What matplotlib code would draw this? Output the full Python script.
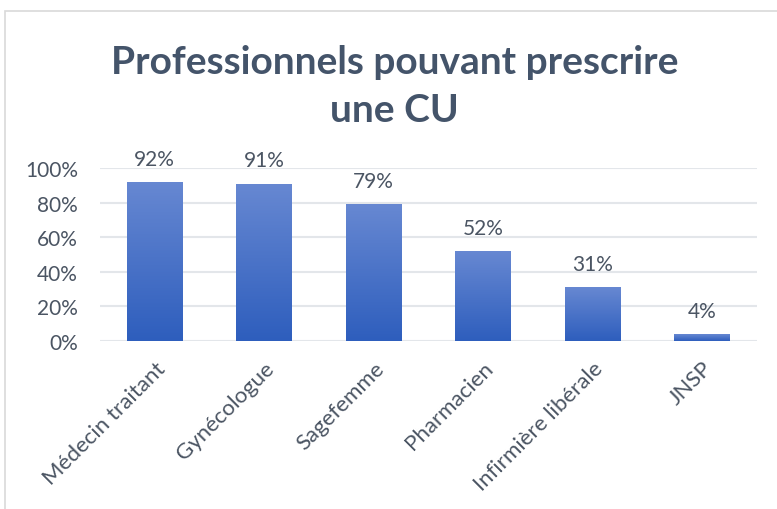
import numpy as np
import matplotlib
matplotlib.use("Agg")
import matplotlib.pyplot as plt
from matplotlib.colors import LinearSegmentedColormap
from matplotlib.patches import Rectangle

categories = ["Médecin traitant", "Gynécologue", "Sagefemme", "Pharmacien",
              "Infirmière libérale", "JNSP"]
values = [92, 91, 79, 52, 31, 4]
tick_labels = ["0%", "20%", "40%", "60%", "80%", "100%"]

plt.rcParams['font.family'] = ['Lato', 'DejaVu Sans']
text_col = "#4B5563"
title_col = "#44546A"

fig = plt.figure(figsize=(7.77, 5.10), dpi=100)
ax = fig.add_axes([0.1287, 0.3294, 0.8456, 0.3392])

# outer chart frame
fig.patches.append(Rectangle((5 / 777, -0.1), 1.2, 1 - 12 / 510 + 0.1,
                             transform=fig.transFigure, fill=False,
                             edgecolor="#D9D9D9", linewidth=1.2))

x = np.arange(len(categories))
bars = ax.bar(x, [v / 100 for v in values], width=0.51, color="none", zorder=3)

cmap = LinearSegmentedColormap.from_list("g", ["#2E5EBD", "#6788D2"])
grad = np.linspace(0, 1, 256).reshape(-1, 1)
for b in bars:
    x0, w, h = b.get_x(), b.get_width(), b.get_height()
    im = ax.imshow(grad, cmap=cmap, aspect="auto", origin="lower",
                   extent=[x0, x0 + w, 0, h], zorder=3)
    im.set_clip_path(b)

for xi, v in zip(x, values):
    ax.text(xi, v / 100 + 0.1, f"{v}%", ha="center", va="baseline",
            fontsize=15, color=text_col)

ax.set_xlim(-0.5, len(categories) - 0.5)
ax.set_ylim(0, 1)
ax.set_yticks(np.arange(0, 1.01, 0.2))
ax.set_yticklabels(tick_labels, fontsize=15, color=text_col)
ax.set_xticks(x)
ax.set_xticklabels(categories, rotation=45, ha="right", rotation_mode="anchor",
                   fontsize=16, color=text_col)
ax.tick_params(length=0)
ax.tick_params(axis="y", pad=16)
ax.tick_params(axis="x", pad=12)
ax.grid(axis="y", color="#E3E6EA", linewidth=1.5, zorder=0)
for s in ax.spines.values():
    s.set_visible(False)

fig.text(0.508, 0.830, "Professionnels pouvant prescrire\nune CU", ha="center",
         va="center", fontsize=28, fontweight="bold", color=title_col,
         linespacing=1.45)

fig.savefig("out.png", dpi=100)
